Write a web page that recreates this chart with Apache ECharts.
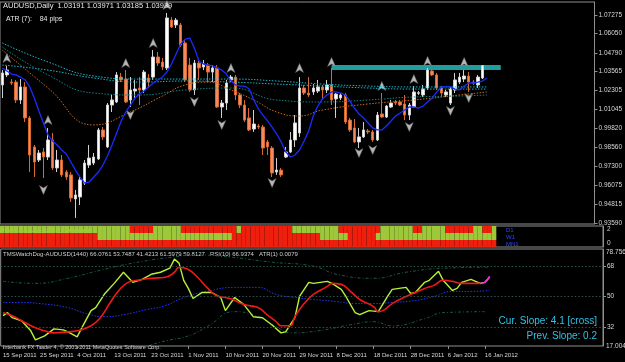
<!DOCTYPE html>
<html>
<head>
<meta charset="utf-8">
<script src="https://cdn.jsdelivr.net/npm/echarts@6/dist/echarts.min.js"></script>
<style>
  html, body { margin: 0; background: #000; }
  #chart { width: 625px; height: 362px; }
</style>
</head>
<body>
<div id="chart"></div>
<script>
// AUDUSD daily bars (15 Sep 2011 .. 18 Jan 2012)
const openP = [1.0267,1.0333,1.0286,1.0286,1.0168,1.0254,1.0050,0.9859,0.9773,0.9826,
  0.9793,0.9905,0.9721,0.9773,0.9694,0.9675,0.9517,0.9530,0.9622,0.9740,
  0.9753,0.9780,0.9971,0.9859,1.0135,1.0155,1.0319,1.0306,1.0168,1.0227,
  1.0247,1.0234,1.0313,1.0319,1.0451,1.0418,1.0379,1.0694,1.0662,1.0662,
  1.0543,1.0398,1.0234,1.0411,1.0385,1.0398,1.0352,1.0379,1.0122,1.0148,
  1.0300,1.0319,1.0201,1.0135,1.0050,0.9977,0.9997,0.9990,0.9892,0.9852,
  0.9694,0.9707,0.9793,0.9826,0.9905,0.9951,1.0247,1.0214,1.0221,1.0227,
  1.0254,1.0234,1.0267,1.0175,1.0181,1.0201,1.0036,0.9984,0.9892,0.9925,
  0.9964,0.9958,0.9905,1.0076,1.0056,1.0122,1.0155,1.0155,1.0142,1.0069,
  1.0122,1.0212,1.0201,1.0247,1.0359,1.0333,1.0247,1.0201,1.0148,1.0234,
  1.0286,1.0306,1.0326,1.0286,1.0267,1.0313];
const closeP = [1.0346,1.0365,1.0280,1.0168,1.0254,1.0050,0.9806,0.9760,0.9819,0.9793,
  0.9905,0.9721,0.9773,0.9675,0.9661,0.9523,0.9543,0.9642,0.9753,0.9786,
  0.9793,0.9971,0.9925,1.0135,1.0168,1.0333,1.0300,1.0155,1.0234,1.0240,
  1.0234,1.0352,1.0286,1.0451,1.0411,1.0385,1.0708,1.0648,1.0694,1.0530,
  1.0300,1.0234,1.0411,1.0379,1.0405,1.0352,1.0379,1.0122,1.0148,1.0280,
  1.0319,1.0201,1.0135,1.0036,0.9971,1.0010,0.9990,0.9852,0.9859,0.9688,
  0.9707,0.9675,0.9826,0.9905,1.0017,1.0247,1.0214,1.0201,1.0247,1.0254,
  1.0234,1.0267,1.0168,1.0207,1.0201,1.0023,0.9971,0.9892,0.9925,0.9971,
  0.9958,0.9905,1.0069,1.0056,1.0128,1.0148,1.0148,1.0135,1.0069,1.0135,
  1.0221,1.0216,1.0240,1.0365,1.0333,1.0247,1.0214,1.0221,1.0240,1.0300,
  1.0319,1.0326,1.0286,1.0280,1.0319,1.03939];
const lowP = [1.0181,1.0319,1.0267,1.0148,1.0142,1.0023,0.9694,0.9661,0.9760,0.9655,
  0.9773,0.9707,0.9694,0.9661,0.9642,0.9497,0.9392,0.9477,0.9609,0.9721,
  0.9740,0.9773,0.9905,0.9852,1.0089,1.0148,1.0286,1.0148,1.0122,1.0181,
  1.0135,1.0214,1.0247,1.0300,1.0392,1.0365,1.0365,1.0642,1.0642,1.0517,
  1.0286,1.0221,1.0201,1.0300,1.0365,1.0286,1.0286,1.0115,1.0050,1.0102,
  1.0286,1.0168,1.0115,1.0023,0.9964,0.9958,0.9977,0.9806,0.9806,0.9661,
  0.9675,0.9661,0.9786,0.9819,0.9859,0.9925,1.0201,1.0188,1.0201,1.0214,
  1.0168,1.0214,1.0135,1.0050,1.0168,1.0010,0.9958,0.9885,0.9852,0.9918,
  0.9944,0.9892,0.9898,1.0050,1.0050,1.0115,1.0135,1.0128,1.0036,1.0036,
  1.0115,1.0201,1.0188,1.0234,1.0326,1.0234,1.0188,1.0188,1.0135,1.0214,
  1.0273,1.0286,1.0221,1.0267,1.0247,1.0306];
const highP = [1.0365,1.0392,1.0306,1.0300,1.0306,1.0286,1.0063,0.9872,0.9839,0.9852,
  0.9984,0.9951,0.9839,0.9806,0.9707,0.9694,0.9576,0.9661,0.9773,0.9872,
  0.9819,0.9984,0.9990,1.0148,1.0201,1.0352,1.0346,1.0365,1.0319,1.0300,
  1.0319,1.0365,1.0339,1.0497,1.0484,1.0444,1.0741,1.0714,1.0708,1.0675,
  1.0563,1.0444,1.0431,1.0431,1.0431,1.0411,1.0398,1.0398,1.0168,1.0300,
  1.0333,1.0333,1.0214,1.0168,1.0115,1.0102,1.0010,1.0004,0.9905,0.9865,
  0.9786,0.9721,0.9859,0.9958,1.0069,1.0319,1.0267,1.0319,1.0273,1.0300,
  1.0267,1.0300,1.0379,1.0214,1.0214,1.0214,1.0050,1.0043,0.9984,1.0023,
  0.9977,0.9971,1.0089,1.0214,1.0135,1.0168,1.0168,1.0168,1.0201,1.0148,
  1.0260,1.0227,1.0267,1.0379,1.0372,1.0346,1.0260,1.0234,1.0254,1.0346,
  1.0346,1.0365,1.0352,1.0300,1.0333,1.0398];

// fast MA (blue), shifted forward one bar
const fastMA = [1.0379,1.0359,1.0339,1.0333,1.0319,1.0300,1.0254,1.0181,1.0096,1.0017,
  0.9938,0.9898,0.9872,0.9839,0.9813,0.9760,0.9707,0.9661,0.9622,0.9628,
  0.9661,0.9694,0.9740,0.9800,0.9872,0.9951,1.0030,1.0089,1.0135,1.0181,
  1.0207,1.0227,1.0254,1.0280,1.0300,1.0319,1.0352,1.0405,1.0471,1.0536,
  1.0569,1.0576,1.0510,1.0425,1.0405,1.0398,1.0392,1.0379,1.0365,1.0339,
  1.0293,1.0267,1.0260,1.0260,1.0240,1.0168,1.0109,1.0069,1.0030,0.9990,
  0.9944,0.9892,0.9826,0.9793,0.9806,0.9839,0.9898,0.9964,1.0063,1.0128,
  1.0175,1.0201,1.0221,1.0221,1.0214,1.0201,1.0161,1.0115,1.0076,1.0050,
  1.0017,0.9984,0.9971,0.9971,0.9997,1.0030,1.0063,1.0082,1.0102,1.0122,
  1.0122,1.0115,1.0128,1.0155,1.0181,1.0221,1.0254,1.0254,1.0254,1.0240,
  1.0234,1.0260,1.0280,1.0280,1.0286,1.0293,1.0313];

// slow averages, read at a few bars: [barIndex, price]
const cyanMA1 = [[0,1.0543],[10,1.0418],[20,1.0326],[30,1.0306],[40,1.0306],[50,1.0306],[60,1.0293],[70,1.0273],[80,1.0260],[90,1.0254],[100,1.0254],[106,1.0254]];
const cyanMA2 = [[0,1.0398],[10,1.0365],[20,1.0313],[30,1.0286],[40,1.0293],[50,1.0286],[60,1.0273],[70,1.0260],[80,1.0247],[90,1.0240],[100,1.0240],[106,1.0240]];
const tealMA = [[0,1.0517],[10,1.0333],[20,1.0214],[30,1.0201],[40,1.0234],[50,1.0247],[60,1.0168],[70,1.0155],[80,1.0168],[90,1.0188],[100,1.0194],[106,1.0201]];
const orangeMA = [[0,1.0497],[10,1.0247],[20,1.0004],[28,1.0089],[35,1.0194],[40,1.0267],[45,1.0286],[50,1.0234],[55,1.0168],[60,1.0089],[65,1.0063],[70,1.0102],[80,1.0142],[90,1.0168],[100,1.0201],[106,1.0221]];

// fractal arrows
const fractalUp = [[1,1.0444],[10,1.0036],[27,1.0411],[33,1.0543],[36,1.0793],[50,1.0379],[65,1.0379],[72,1.0418],[83,1.0260],[90,1.0306],[93,1.0425],[101,1.0418]];
const fractalDown = [[9,0.9576],[28,1.0069],[42,1.0155],[48,1.0004],[59,0.9622],[78,0.9819],[81,0.9839],[89,0.9990],[98,1.0096],[102,1.0181]];

// resistance zone
const zoneTop = 1.0398;
const zoneBottom = 1.0365;
const zoneFrom = 72;
const zoneTo = 109;

// TMS-Osc Holo 3TF: g = green, r = red, one letter per bar
const rowD1 = 'gggggggggggggggggggggggggggg' + 'rrrrr' + 'gggggg' + 'rrrrrrrrrrrr' + 'g' + 'rrrrrrrrrrr' +
  'gggggggggg' + 'rrrrrrrrr' + 'ggggggg' + 'rr' + 'ggggg' + 'rrrrrr' + 'gg' + 'rr' + 'g';
const rowW1 = 'rrrrrrrrrrrrrrrrrrrrr' + 'ggggggggggggggggggggggggggggg' + 'rrrrrrrrrrrrrrrrrrr' + 'gggggg' +
  'rrrrrr' + 'gggggggggggggggggggggggggg';
const rowMN1 = 'rrrrrrrrrrrrrrrrrrrrrrrrrrrrrrrrrrrrrrrrrrrrrrrrrrrrrrrrrrrrrrrrrrrrrrrrrrrrrrrrrrrrrrrrrrrrrrrrrrrrrrrrrrr';

// TMSWatchDog panel: [barIndex, value]
const rsiLine = [[0,38.6],[1,40.4],[2,37.4],[4,35.6],[6,29.6],[7,24.2],[9,26.6],[11,30.8],[13,30.2],[14,29.0],
  [16,26.0],[17,31.4],[19,41.6],[20,43.4],[22,51.8],[24,57.8],[26,64.4],[28,58.4],[30,60.2],[32,63.2],
  [34,64.4],[36,66.8],[37,72.2],[38,69.8],[39,59.6],[40,54.8],[41,48.8],[43,52.4],[45,52.4],[47,49.4],
  [48,41.6],[50,49.4],[52,45.2],[54,38.0],[56,37.4],[58,33.2],[60,28.4],[61,29.0],[63,37.4],[64,50.0],
  [66,58.4],[67,57.8],[70,59.0],[71,57.8],[73,54.2],[74,50.0],[76,40.4],[77,39.2],[79,41.6],[81,41.0],
  [83,50.0],[84,54.2],[87,55.4],[88,51.8],[89,52.4],[91,58.4],[92,59.6],[94,65.0],[95,59.6],[97,53.6],
  [98,54.8],[99,58.4],[101,60.2],[103,57.8],[104,58.4],[105,61.4]];
const signalLine = [[0,40.4],[2,38.6],[4,35.6],[7,31.4],[9,29.6],[11,28.4],[14,29.0],[16,29.6],[19,32.6],[21,37.4],
  [23,45.8],[25,53.6],[27,58.4],[29,59.6],[32,60.8],[35,61.4],[37,64.4],[38,67.4],[40,66.0],[42,61.4],
  [44,55.4],[46,50.6],[49,48.8],[52,45.2],[55,43.4],[57,39.2],[59,35.0],[60,32.6],[62,32.6],[63,38.0],
  [65,45.8],[67,51.2],[70,56.0],[71,57.8],[73,57.2],[75,53.0],[77,48.2],[80,44.0],[81,41.0],[82,41.6],
  [84,45.8],[87,50.0],[89,52.4],[91,54.8],[93,56.6],[95,59.6],[97,59.0],[99,57.8],[101,57.8],[103,57.8]];
const signalTail = [[103,57.8],[104,58.4],[105,62.0]];
const baseLine = [[0,46.4],[4,46.4],[8,45.8],[14,43.4],[18,39.8],[22,38.0],[26,39.2],[31,42.2],[35,44.6],[39,49.4],
  [44,53.0],[50,55.4],[55,55.4],[59,51.2],[63,49.4],[67,48.2],[72,47.0],[76,45.8],[80,45.8],[84,46.4],
  [89,47.6],[93,50.0],[97,53.0],[101,53.0],[105,53.6]];
const upperBand = [[0,59.0],[7,57.8],[14,60.8],[21,65.6],[28,69.8],[35,72.8],[42,74.6],[49,73.4],[58,70.4],[67,68.0],
  [72,63.2],[80,60.8],[87,64.4],[95,66.8],[105,67.4]];
const lowerBand = [[31,20.6],[35,23.6],[40,26.6],[44,32.0],[50,41.0],[55,38.0],[59,32.0],[62,28.4],[68,29.6],[75,33.2],
  [80,35.0],[84,32.6],[91,36.8],[95,40.4],[104,41.0]];
const oscLevels = [68, 50, 32];

// axes
const priceTicks = [1.07275, 1.06050, 1.04790, 1.03565, 1.02305, 1.01045, 0.99820, 0.98560, 0.97300, 0.96075, 0.94815, 0.93590];
const dateLabels = ['15 Sep 2011', '25 Sep 2011', '4 Oct 2011', '13 Oct 2011', '23 Oct 2011', '1 Nov 2011', '10 Nov 2011',
  '20 Nov 2011', '29 Nov 2011', '8 Dec 2011', '18 Dec 2011', '28 Dec 2011', '6 Jan 2012', '16 Jan 2012'];

const nCat = 130;
const cats = [];
for (let i = 0; i < nCat; i++) cats.push(String(i));

const font = 'Liberation Sans';
const gridLine = '#8f8f8f';
const greenC = '#9cc83a';
const redC = '#ee1f0c';

const candles = openP.map((o, i) => [o, closeP[i], lowP[i], highP[i]]);

const oscSeries = [rowMN1, rowW1, rowD1].map((row, r) => ({
  type: 'bar',
  xAxisIndex: 1,
  yAxisIndex: 1,
  stack: 'osc',
  barCategoryGap: '0%',
  barGap: '0%',
  silent: true,
  data: row.split('').map(c => ({ value: 1, itemStyle: { color: c === 'g' ? greenC : redC } }))
}));

const arrowPath = 'path://M50,0 L100,100 L50,72 L0,100 Z';

const xBase = {
  type: 'category',
  data: cats,
  boundaryGap: true,
  axisLine: { show: false },
  axisTick: { show: false },
  axisLabel: { show: false },
  splitLine: { show: false }
};

const option = {
  backgroundColor: '#000000',
  animation: false,
  textStyle: { fontFamily: font },
  grid: [
    { left: 0, right: 22, top: 2, height: 222, show: true, borderColor: gridLine, borderWidth: 1, backgroundColor: 'transparent' },
    { left: 0, right: 22, top: 226, height: 21, show: true, borderColor: gridLine, borderWidth: 1 },
    { left: 0, right: 22, top: 249, height: 97, show: true, borderColor: gridLine, borderWidth: 1 }
  ],
  xAxis: [
    Object.assign({ gridIndex: 0 }, xBase),
    Object.assign({ gridIndex: 1 }, xBase),
    Object.assign({}, xBase, {
      gridIndex: 2,
      axisTick: {
        show: true, length: 3, alignWithLabel: true,
        interval: (idx) => idx % 8 === 0 && idx / 8 < dateLabels.length,
        lineStyle: { color: gridLine }
      },
      axisLabel: {
        show: true, align: 'left', margin: 6, color: '#d8d8d8', fontSize: 6,
        interval: (idx) => idx % 8 === 0 && idx / 8 < dateLabels.length,
        formatter: (val, idx) => dateLabels[idx / 8] || ''
      }
    })
  ],
  yAxis: [
    {
      gridIndex: 0, type: 'value', position: 'right', min: 0.9352, max: 1.0813, scale: true,
      axisLine: { show: true, lineStyle: { color: gridLine } },
      axisTick: { show: true, length: 3, customValues: priceTicks, lineStyle: { color: gridLine } },
      axisLabel: { customValues: priceTicks, formatter: v => v.toFixed(5), color: '#d8d8d8', fontSize: 6.5, margin: 4 },
      splitLine: { show: false }
    },
    {
      gridIndex: 1, type: 'value', position: 'right', min: 0, max: 3,
      axisLine: { show: true, lineStyle: { color: gridLine } },
      axisTick: { show: false }, axisLabel: { show: false }, splitLine: { show: false }
    },
    {
      gridIndex: 2, type: 'value', position: 'right', min: 20.6, max: 78.2,
      axisLine: { show: true, lineStyle: { color: gridLine } },
      axisTick: { show: true, length: 3, customValues: oscLevels, lineStyle: { color: gridLine } },
      axisLabel: { customValues: oscLevels, color: '#d8d8d8', fontSize: 6.5, margin: 4 },
      splitLine: { show: false }
    }
  ],
  series: [
    { type: 'line', data: cyanMA1, showSymbol: false, smooth: true, silent: true, lineStyle: { color: '#19b6c9', width: 1, type: [1.5, 1.5] } },
    { type: 'line', data: cyanMA2, showSymbol: false, smooth: true, silent: true, lineStyle: { color: '#19b6c9', width: 1, type: [1.5, 1.5] } },
    { type: 'line', data: tealMA, showSymbol: false, smooth: true, silent: true, lineStyle: { color: '#118080', width: 1, type: [1.5, 1.5] } },
    { type: 'line', data: orangeMA, showSymbol: false, smooth: true, silent: true, lineStyle: { color: '#c86a1c', width: 1, type: [1.5, 1.5] } },
    {
      type: 'candlestick',
      data: candles,
      barWidth: 3,
      silent: true,
      itemStyle: { color: '#ffffff', borderColor: '#d0d0d0', color0: '#f28a62', borderColor0: '#d8682e', borderWidth: 1 },
      markArea: {
        silent: true,
        itemStyle: { color: '#23a5a5', opacity: 0.95 },
        data: [[{ xAxis: zoneFrom, yAxis: zoneTop }, { xAxis: zoneTo, yAxis: zoneBottom }]]
      },
      markLine: {
        silent: true, symbol: 'none',
        lineStyle: { opacity: 0 },
        label: {
          position: 'end', distance: 1, formatter: closeP[closeP.length - 1].toFixed(5),
          backgroundColor: '#ffffff', color: '#000000', fontSize: 6.5, padding: [1, 2, 0, 2]
        },
        data: [{ yAxis: closeP[closeP.length - 1] }]
      }
    },
    { type: 'line', data: fastMA, showSymbol: false, silent: true, lineStyle: { color: '#1a2cff', width: 1.3 } },
    {
      type: 'scatter', data: fractalUp, symbol: arrowPath, symbolSize: [8, 9], silent: true,
      itemStyle: { color: '#e4e4e4', borderColor: '#6a6a6a', borderWidth: 0.6 }
    },
    {
      type: 'scatter', data: fractalDown, symbol: arrowPath, symbolSize: [8, 9], symbolRotate: 180, silent: true,
      itemStyle: { color: '#e4e4e4', borderColor: '#6a6a6a', borderWidth: 0.6 }
    },
    ...oscSeries,
    {
      type: 'line', xAxisIndex: 2, yAxisIndex: 2, data: upperBand, showSymbol: false, smooth: true, silent: true,
      lineStyle: { color: '#17594c', width: 1, type: [3, 2, 1, 2] },
      markLine: {
        silent: true, symbol: 'none', label: { show: false },
        lineStyle: { color: '#2f5548', width: 1, type: [1.5, 2] },
        data: oscLevels.map(v => ({ yAxis: v }))
      }
    },
    {
      type: 'line', xAxisIndex: 2, yAxisIndex: 2, data: lowerBand, showSymbol: false, smooth: true, silent: true,
      lineStyle: { color: '#17594c', width: 1, type: [3, 2, 1, 2] }
    },
    {
      type: 'line', xAxisIndex: 2, yAxisIndex: 2, data: baseLine, showSymbol: false, smooth: true, silent: true,
      lineStyle: { color: '#1f35ff', width: 1, type: [1.5, 1.5] }
    },
    {
      type: 'line', xAxisIndex: 2, yAxisIndex: 2, data: rsiLine, showSymbol: false, silent: true,
      lineStyle: { color: '#b8f03a', width: 1.4 }
    },
    {
      type: 'line', xAxisIndex: 2, yAxisIndex: 2, data: signalLine, showSymbol: false, smooth: true, silent: true,
      lineStyle: { color: '#f01818', width: 1.6 }
    },
    {
      type: 'line', xAxisIndex: 2, yAxisIndex: 2, data: signalTail, showSymbol: false, smooth: true, silent: true,
      lineStyle: { color: '#ff22ee', width: 1.6 }
    }
  ],
  graphic: [
    { type: 'text', left: 3, top: 2, style: { text: 'AUDUSD,Daily  1.03191 1.03971 1.03185 1.03939', fill: '#e8e8e8', font: '7.5px ' + font } },
    { type: 'text', left: 6, top: 16, style: { text: 'ATR (7):    84 pips', fill: '#e8e8e8', font: '7px ' + font } },
    { type: 'text', left: 4, top: 228, style: { text: 'TMS-Osc Holo 3TF(D1,W1,MN1)', fill: '#f4f4f4', font: '6px ' + font } },
    { type: 'text', left: 506, top: 227, style: { text: 'D1', fill: '#2c48ff', font: '6px ' + font } },
    { type: 'text', left: 506, top: 234, style: { text: 'W1', fill: '#2c48ff', font: '6px ' + font } },
    { type: 'text', left: 506, top: 241, style: { text: 'MN1', fill: '#2c48ff', font: '6px ' + font } },
    { type: 'text', left: 607, top: 226, style: { text: '2', fill: '#d8d8d8', font: '6.5px ' + font } },
    { type: 'text', left: 607, top: 240, style: { text: '0', fill: '#d8d8d8', font: '6.5px ' + font } },
    { type: 'text', left: 606, top: 249, style: { text: '78.7563', fill: '#d8d8d8', font: '6.5px ' + font } },
    { type: 'text', left: 606, top: 343, style: { text: '17.0041', fill: '#d8d8d8', font: '6.5px ' + font } },
    { type: 'text', left: 3, top: 251, style: { text: 'TMSWatchDog-AUDUSD(1440) 66.0761 53.7487 41.4213 61.5979 59.8127   RSI(10) 66.9374   ATR(1) 0.0079', fill: '#d0d0d0', font: '6px ' + font } },
    { type: 'text', right: 28, top: 316, style: { text: 'Cur. Slope: 4.1 [cross]', fill: '#2fc2e6', font: '10px ' + font } },
    { type: 'text', right: 28, top: 331, style: { text: 'Prev. Slope: 0.2', fill: '#2fc2e6', font: '10px ' + font } },
    { type: 'text', left: 3, top: 344, style: { text: 'Interbank FX Trader 4, \u00a9 2001-2011 MetaQuotes Software Corp.', fill: '#d0d0d0', font: '5.5px ' + font } }
  ]
};

const chart = echarts.init(document.getElementById('chart'));
chart.setOption(option);
</script>
</body>
</html>
